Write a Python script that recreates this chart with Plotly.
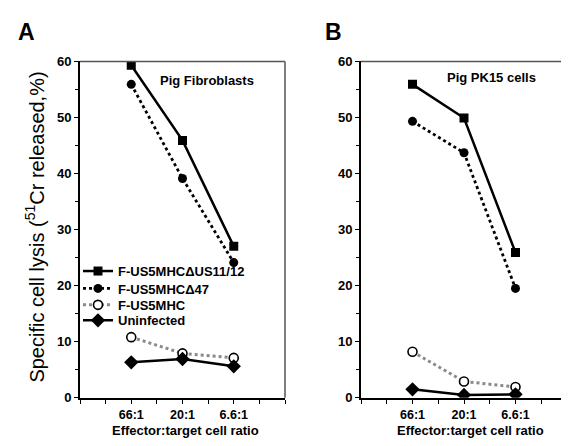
import plotly.graph_objects as go

ratios = ["66:1", "20:1", "6.6:1"]
series_names = ["F-US5MHC\u0394US11/12", "F-US5MHC\u039447", "F-US5MHC", "Uninfected"]

fib_dUS11 = [59.3, 45.9, 27.0]
fib_d47 = [55.9, 39.1, 24.1]
fib_wt = [10.8, 7.9, 7.1]
fib_uninf = [6.3, 6.9, 5.6]

pk_dUS11 = [55.9, 49.9, 25.9]
pk_d47 = [49.3, 43.7, 19.5]
pk_wt = [8.2, 2.9, 1.9]
pk_uninf = [1.5, 0.5, 0.6]

y_ticks = [0, 10, 20, 30, 40, 50, 60]

xpos = [1, 2, 3]
FONT = "Liberation Sans, Arial, sans-serif"

styles = [
    dict(line=dict(color="black", width=2.5, dash="solid"),
         marker=dict(symbol="square", size=9, color="black")),
    dict(line=dict(color="black", width=2.8, dash="dot"),
         marker=dict(symbol="circle", size=9, color="black")),
    dict(line=dict(color="#8a8a8a", width=3, dash="dot"),
         marker=dict(symbol="circle", size=9, color="white", line=dict(color="black", width=1.6))),
    dict(line=dict(color="black", width=2.5, dash="solid"),
         marker=dict(symbol="diamond", size=11, color="black")),
]

W, H = 569, 446
legend_ids = ["legend", "legend2", "legend3", "legend4"]
legend_y = [265, 283, 300, 316]

fig = go.Figure()
panels = [
    ("x", "y", [fib_dUS11, fib_d47, fib_wt, fib_uninf], True),
    ("x2", "y2", [pk_dUS11, pk_d47, pk_wt, pk_uninf], False),
]
for xa, ya, data, show in panels:
    for i, (name, vals, st) in enumerate(zip(series_names, data, styles)):
        fig.add_trace(go.Scatter(x=xpos, y=vals, name=name, mode="lines+markers",
                                 xaxis=xa, yaxis=ya, showlegend=show, legend=legend_ids[i],
                                 line=st["line"], marker=st["marker"]))

domA = [72 / W, 277 / W]
domB = [353 / W, 559 / W]
ydom = [1 - 396 / H, 1 - 48 / H]

def xaxis(dom):
    return dict(domain=dom, range=[0, 4], tickmode="array", tickvals=xpos, ticktext=ratios,
                ticks="outside", ticklen=4, tickwidth=1.2, tickcolor="black",
                minor=dict(tickmode="linear", tick0=0, dtick=0.5, ticks="outside", ticklen=4,
                           tickwidth=1.2, tickcolor="black", showgrid=False),
                showline=True, linecolor="black", linewidth=2, showgrid=False, zeroline=False,
                tickfont=dict(family=FONT, size=12.5, color="black", weight="bold"))

def yaxis(anchor):
    return dict(domain=ydom, range=[0, 60], anchor=anchor, tickmode="array", tickvals=y_ticks,
                ticks="outside", ticklen=4, tickwidth=1.2, tickcolor="black",
                minor=dict(dtick=5, tick0=0, ticks="outside", ticklen=3, tickcolor="black", showgrid=False),
                showline=True, linecolor="black", linewidth=2, showgrid=False, zeroline=False,
                tickfont=dict(family=FONT, size=13, color="black", weight="bold"))

layout_legends = {}
for lid, ly in zip(legend_ids, legend_y):
    layout_legends[lid] = dict(x=70 / W, y=1 - ly / H, xanchor="left", yanchor="middle",
                               bgcolor="rgba(0,0,0,0)",
                               font=dict(family=FONT, size=13, color="black", weight="bold"),
                               itemwidth=30)

fig.update_layout(
    width=W, height=H, margin=dict(l=0, r=0, t=0, b=0),
    paper_bgcolor="white", plot_bgcolor="white",
    xaxis=dict(xaxis(domA), anchor="y"),
    yaxis=yaxis("x"),
    xaxis2=dict(xaxis(domB), anchor="y2"),
    yaxis2=yaxis("x2"),
    showlegend=True,
    **layout_legends,
)

# frame top/right
for xr, yr in [("x domain", "y domain"), ("x2 domain", "y2 domain")]:
    fig.add_shape(type="line", xref=xr, yref=yr, x0=0, x1=1, y0=1, y1=1, line=dict(color="#555", width=1.5))
    fig.add_shape(type="line", xref=xr, yref=yr, x0=1, x1=1, y0=0, y1=1, line=dict(color="#555", width=1.5))

ann = [
    dict(text="A", x=8 / W, y=1 - 18 / H, font=dict(size=23, weight="bold"), xanchor="left"),
    dict(text="B", x=315 / W, y=1 - 18 / H, font=dict(size=23, weight="bold"), xanchor="left"),
    dict(text="Pig Fibroblasts", x=199 / W, y=1 - 68 / H, font=dict(size=13, weight="bold")),
    dict(text="Pig PK15 cells", x=483 / W, y=1 - 65 / H, font=dict(size=13, weight="bold")),
    dict(text="Effector:target cell ratio", x=177 / W, y=1 - 430 / H, font=dict(size=13, weight="bold")),
    dict(text="Effector:target cell ratio", x=462 / W, y=1 - 430 / H, font=dict(size=13, weight="bold")),
    dict(text="Specific cell lysis (<sup>51</sup>Cr released,%)", x=27 / W, y=1 - 220 / H,
         textangle=-90, font=dict(size=20)),
]
for a in ann:
    f = dict(family=FONT, color="black")
    f.update(a.pop("font"))
    a.setdefault("xanchor", "center")
    fig.add_annotation(xref="paper", yref="paper", showarrow=False, yanchor="middle", font=f, **a)

fig.write_html("out.html")
